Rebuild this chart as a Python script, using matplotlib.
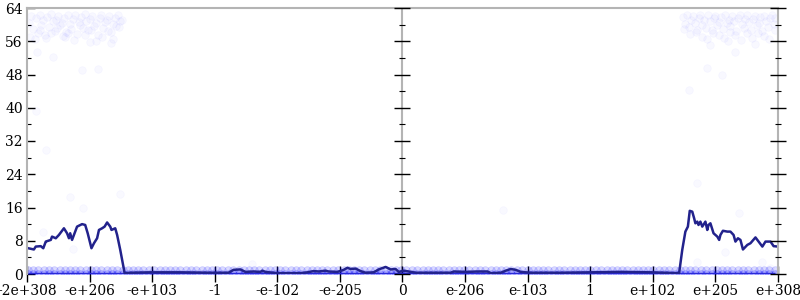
import matplotlib
matplotlib.use("Agg")
import matplotlib.pyplot as plt

# ---- data ----
tick_pos = [-6, -5, -4, -3, -2, -1, 0, 1, 2, 3, 4, 5, 6]
tick_labels = ['-2e+308', '-e+206', '-e+103', '-1', '-e-102', '-e-205', '0',
               'e-206', 'e-103', '1', 'e+102', 'e+205', 'e+308']
y_ticks = [0, 8, 16, 24, 32, 40, 48, 56, 64]

# scattered samples: top-left cluster
tl_x = [-5.97, -5.93, -5.90, -5.86, -5.83, -5.80, -5.77, -5.74, -5.71, -5.68,
        -5.65, -5.62, -5.59, -5.56, -5.53, -5.50, -5.47, -5.44, -5.41, -5.38,
        -5.35, -5.32, -5.29, -5.26, -5.23, -5.20, -5.17, -5.14, -5.11, -5.08,
        -5.05, -5.02, -4.99, -4.96, -4.93, -4.90, -4.87, -4.84, -4.81, -4.78,
        -4.75, -4.72, -4.69, -4.66, -4.63, -4.60, -4.57, -4.54, -4.51, -4.48,
        -5.95, -5.88, -5.79, -5.70, -5.61, -5.52, -5.43, -5.34, -5.25, -5.16,
        -5.07, -4.98, -4.89, -4.80, -4.71, -4.62, -4.53, -5.84, -5.58, -5.12,
        -4.86, -4.66, -5.40, -5.00]
tl_y = [60.5, 62.0, 59.0, 61.5, 58.0, 62.3, 60.0, 61.0, 57.5, 61.8,
        59.5, 62.5, 60.8, 58.5, 61.2, 62.0, 59.8, 60.5, 61.7, 58.2,
        62.4, 60.1, 59.0, 61.4, 62.2, 57.8, 60.6, 61.9, 59.3, 62.6,
        60.9, 58.6, 61.3, 62.1, 59.6, 60.4, 57.6, 61.6, 62.3, 59.1,
        60.7, 61.2, 62.0, 58.3, 60.2, 61.5, 59.7, 62.4, 60.9, 61.1,
        57.0, 56.5, 58.8, 56.8, 57.9, 59.3, 57.2, 58.1, 56.3, 59.9,
        57.4, 58.7, 56.0, 57.1, 58.4, 56.6, 59.5, 53.5, 52.3, 49.0,
        49.3, 55.5, 57.0, 55.8]
# top-right cluster
tr_x = [4.49, 4.52, 4.55, 4.58, 4.61, 4.64, 4.67, 4.70, 4.73, 4.76,
        4.79, 4.82, 4.85, 4.88, 4.91, 4.94, 4.97, 5.00, 5.03, 5.06,
        5.09, 5.12, 5.15, 5.18, 5.21, 5.24, 5.27, 5.30, 5.33, 5.36,
        5.39, 5.42, 5.45, 5.48, 5.51, 5.54, 5.57, 5.60, 5.63, 5.66,
        5.69, 5.72, 5.75, 5.78, 5.81, 5.84, 5.87, 5.90, 5.93, 5.96,
        4.50, 4.60, 4.69, 4.78, 4.87, 4.96, 5.05, 5.14, 5.23, 5.32,
        5.41, 5.50, 5.59, 5.68, 5.77, 5.86, 5.95, 4.92, 5.32, 4.87,
        5.11, 4.57, 5.20, 5.63]
tr_y = [61.8, 60.2, 62.3, 59.5, 61.0, 62.1, 60.5, 58.8, 61.6, 62.4,
        60.0, 61.2, 59.3, 62.2, 60.8, 58.6, 61.5, 62.0, 59.9, 60.6,
        61.9, 58.9, 62.3, 60.3, 61.1, 59.6, 62.1, 60.9, 58.5, 61.7,
        62.2, 60.1, 59.2, 61.4, 62.4, 60.7, 58.7, 61.3, 62.0, 59.8,
        60.4, 61.8, 58.4, 62.1, 60.9, 59.4, 61.6, 62.3, 60.2, 61.5,
        59.0, 57.8, 58.2, 57.1, 56.6, 58.0, 57.4, 56.9, 58.3, 57.6,
        56.4, 57.9, 56.8, 58.1, 57.3, 56.5, 58.6, 55.0, 53.4, 49.6,
        47.9, 44.3, 56.0, 55.3]
# sparse samples elsewhere
mid_x = [-5.85, -5.69, -5.32, -5.11, -4.52, -5.74, -5.26, 4.71, 5.37, 5.16,
         4.71, 5.74, 5.88, -2.4, 1.6]
mid_y = [39.2, 29.8, 18.5, 15.9, 19.2, 10.1, 6.0, 21.9, 14.7, 5.3,
         2.9, 2.9, 1.4, 2.5, 15.5]
# dense samples along the bottom (values 0 and 1)
band_x = [-5.98, -5.90, -5.82, -5.73, -5.65, -5.57, -5.48, -5.40, -5.31, -5.23,
          -5.15, -5.06, -4.98, -4.89, -4.81, -4.72, -4.64, -4.56, -4.47, -4.39,
          -4.30, -4.22, -4.14, -4.05, -3.97, -3.88, -3.80, -3.72, -3.63, -3.55,
          -3.46, -3.38, -3.30, -3.21, -3.13, -3.04, -2.96, -2.88, -2.79, -2.71,
          -2.62, -2.54, -2.46, -2.37, -2.29, -2.20, -2.12, -2.04, -1.95, -1.87,
          -1.78, -1.70, -1.62, -1.53, -1.45, -1.36, -1.28, -1.20, -1.11, -1.03,
          -0.94, -0.86, -0.78, -0.69, -0.61, -0.52, -0.44, -0.36, -0.27, -0.19,
          -0.10, -0.02, 0.06, 0.15, 0.23, 0.32, 0.40, 0.48, 0.57, 0.65,
          0.74, 0.82, 0.90, 0.99, 1.07, 1.16, 1.24, 1.32, 1.41, 1.49,
          1.58, 1.66, 1.74, 1.83, 1.91, 2.00, 2.08, 2.16, 2.25, 2.33,
          2.42, 2.50, 2.58, 2.67, 2.75, 2.84, 2.92, 3.00, 3.09, 3.17,
          3.26, 3.34, 3.42, 3.51, 3.59, 3.68, 3.76, 3.84, 3.93, 4.01,
          4.10, 4.18, 4.26, 4.35, 4.43, 4.52, 4.60, 4.68, 4.77, 4.85,
          4.94, 5.02, 5.10, 5.19, 5.27, 5.36, 5.44, 5.52, 5.61, 5.69,
          5.78, 5.86, 5.95]
band_low = [0.0] * len(band_x)
band_high = [1.0] * len(band_x)

# running average line
line_x = [-5.98, -5.89, -5.86, -5.78, -5.74, -5.70, -5.68, -5.62, -5.60, -5.54,
          -5.49, -5.41, -5.36, -5.33, -5.31, -5.28, -5.25, -5.20, -5.12, -5.07,
          -5.03, -4.97, -4.93, -4.88, -4.85, -4.80, -4.76, -4.72, -4.67, -4.65,
          -4.59, -4.56, -4.51, -4.44, -4.35, -4.03, -3.55, -3.07, -2.78, -2.70,
          -2.59, -2.51, -2.38, -2.27, -2.24, -2.19, -2.00, -1.63, -1.52, -1.42,
          -1.34, -1.23, -1.18, -1.04, -0.94, -0.88, -0.83, -0.75, -0.67, -0.59,
          -0.46, -0.38, -0.27, -0.19, -0.11, -0.06, 0.02, 0.10, 0.21, 0.77,
          0.82, 1.01, 1.20, 1.36, 1.41, 1.57, 1.65, 1.73, 1.81, 1.89,
          2.05, 2.53, 3.01, 3.49, 3.97, 4.42, 4.47, 4.52, 4.56, 4.59,
          4.63, 4.66, 4.68, 4.71, 4.73, 4.76, 4.79, 4.84, 4.87, 4.89,
          4.92, 4.97, 5.03, 5.06, 5.08, 5.12, 5.19, 5.24, 5.29, 5.32,
          5.36, 5.40, 5.44, 5.51, 5.56, 5.64, 5.69, 5.75, 5.80, 5.88,
          5.93, 6.00]
line_y = [6.2, 5.9, 6.6, 6.7, 6.2, 7.8, 7.9, 8.2, 9.0, 8.6,
          9.4, 11.0, 9.8, 8.6, 9.8, 8.2, 9.4, 11.4, 12.0, 11.8,
          9.8, 6.2, 7.4, 8.6, 10.6, 11.0, 11.4, 12.4, 11.4, 10.6,
          11.0, 9.4, 5.8, 0.2, 0.3, 0.4, 0.4, 0.3, 0.3, 1.0,
          1.1, 0.5, 0.6, 0.5, 0.8, 0.5, 0.2, 0.2, 0.4, 0.7,
          0.6, 0.8, 0.6, 0.5, 1.0, 1.5, 1.2, 1.3, 0.7, 0.3,
          0.4, 1.1, 1.7, 1.1, 1.2, 0.5, 0.8, 0.6, 0.3, 0.3,
          0.6, 0.5, 0.6, 0.6, 0.2, 0.3, 0.8, 1.2, 1.0, 0.5,
          0.3, 0.3, 0.4, 0.5, 0.4, 0.2, 5.8, 10.2, 11.4, 15.2,
          15.0, 13.4, 12.2, 12.6, 11.8, 12.6, 11.4, 12.6, 10.6, 11.8,
          12.2, 9.8, 9.0, 8.2, 9.4, 10.4, 10.2, 10.2, 9.4, 7.8,
          8.6, 8.2, 5.9, 7.0, 7.4, 8.8, 7.8, 6.6, 7.8, 7.8,
          6.7, 6.6]

# ---- plot ----
plt.rcParams['font.family'] = ['DejaVu Serif']
fig = plt.figure(figsize=(8, 3), dpi=100)
pos = [27 / 800, 26 / 300, (778 - 27) / 800, (274 - 8) / 300]
ax = fig.add_axes(pos)

pt = dict(marker='o', linestyle='none', markersize=5.5,
          markerfacecolor='#0000ff', markeredgecolor='#0000ff', markeredgewidth=0.6)
ax.plot(tl_x, tl_y, alpha=0.028, **pt)
ax.plot(tr_x, tr_y, alpha=0.028, **pt)
ax.plot(mid_x, mid_y, alpha=0.025, **pt)
ax.plot(band_x, band_high, alpha=0.14, **pt)
ax.plot(band_x, band_low, alpha=0.2, **pt)
ax.plot(band_x, band_low, color='#2a2ad8', lw=2.5, solid_capstyle='butt')
ax.plot(line_x, line_y, color='#22228c', lw=1.8)

ax.set_xlim(-6, 6)
ax.set_ylim(0, 64)
ax.set_xticks(tick_pos)
ax.set_xticklabels(tick_labels)
ax.set_yticks(y_ticks)
ax.set_yticks(range(4, 64, 8), minor=True)

for s in ['left', 'top', 'right']:
    ax.spines[s].set_color('#b4b4b4')
    ax.spines[s].set_linewidth(1.5)
ax.spines['bottom'].set_visible(False)
ax.tick_params(axis='x', direction='inout', length=11, width=1, colors='black',
               labelsize=10, pad=2)
ax.tick_params(axis='y', which='major', direction='in', length=6, width=1,
               labelsize=10, pad=3)
ax.tick_params(axis='y', which='minor', direction='in', length=3, width=0.8)
ax.axvline(0, color='#b4b4b4', lw=1.5, zorder=0)

# middle and right tick axes (inout)
for xpos in [0.5, 1.0]:
    a2 = fig.add_axes(pos, facecolor='none')
    a2.set_ylim(0, 64)
    a2.set_xticks([])
    for s in ['top', 'right', 'bottom', 'left']:
        a2.spines[s].set_visible(False)
    a2.spines['left'].set_position(('axes', xpos))
    a2.set_yticks(y_ticks)
    a2.set_yticks(range(4, 64, 8), minor=True)
    a2.tick_params(axis='y', which='major', direction='inout', length=11,
                   width=1, labelleft=False)
    a2.tick_params(axis='y', which='minor', direction='inout', length=5,
                   width=0.8, labelleft=False)

fig.savefig('out.png', dpi=100)
